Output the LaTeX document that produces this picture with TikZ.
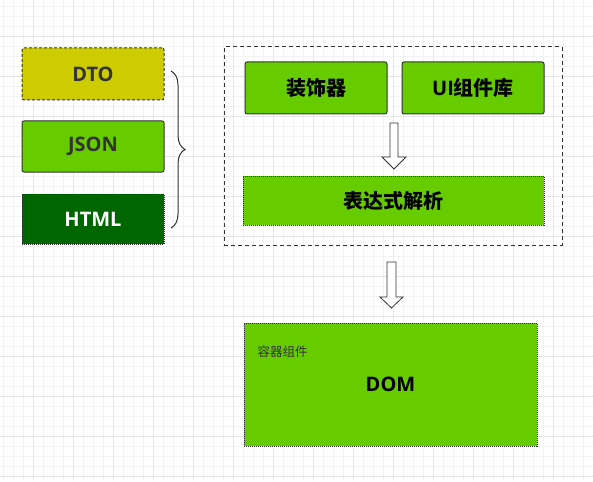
\documentclass[tikz,border=0pt]{standalone}
\usepackage{fontspec}
\setmainfont{Open Sans}
\newfontfamily\cjk{Noto Sans CJK SC}
\usetikzlibrary{decorations.pathreplacing}
\definecolor{dtoyellow}{HTML}{CCCC00}
\definecolor{leafgreen}{HTML}{66CC00}
\definecolor{darkleaf}{HTML}{006600}
\definecolor{inkgray}{HTML}{333333}
\definecolor{gridminor}{HTML}{F3F3F3}
\definecolor{gridmajor}{HTML}{E6E6E6}
\begin{document}
\begin{tikzpicture}[x=1pt,y=-1pt,line width=1pt,
  box/.style={draw=inkgray,fill=leafgreen,rounded corners=2pt,minimum width=142pt,minimum height=52pt,inner sep=0pt,text=inkgray,font=\bfseries\fontsize{20}{20}\selectfont},
  dotbox/.style={box,rounded corners=0pt,dash pattern=on 1pt off 1pt},
  hollow/.style={draw=inkgray,fill=white,line width=0.8pt}]
\useasboundingbox (0,0) rectangle (593,481);
\fill[white] (0,0) rectangle (593,481);
\foreach \x in {3.3,13.3,...,593} \draw[gridminor] (\x,0) -- (\x,481);
\foreach \y in {6.7,16.7,...,481} \draw[gridminor] (0,\y) -- (593,\y);
\foreach \x in {33.3,73.3,...,593} \draw[gridmajor] (\x,0) -- (\x,481);
\foreach \y in {36.7,76.7,...,481} \draw[gridmajor] (0,\y) -- (593,\y);
\node[box,fill=dtoyellow,dash pattern=on 3pt off 2pt] (dto) at (93,74) {DTO};
\node[box,minimum height=51pt] (json) at (93,146.5) {JSON};
\node[dotbox,fill=darkleaf,minimum height=50pt,text=white] (html) at (93,219) {HTML};
\coordinate (btop) at (171,71); \coordinate (bbot) at (171,228);
\draw[inkgray,decorate,decoration={brace,amplitude=14pt}] (btop) -- (bbot);
\node[draw=inkgray,dash pattern=on 4pt off 3pt,minimum width=338pt,minimum height=198pt] (core) at (393,146) {};
\node[box,text=black] (deco) at (316,88) {\cjk\bfseries 装饰器};
\node[box,text=black] (uilib) at (473,88) {UI\cjk\bfseries 组件库};
\node[dotbox,text=black,minimum width=301pt,minimum height=49pt] (parse) at (393.5,200.5) {\cjk\bfseries 表达式解析};
\draw[hollow] (390,123) -- (398,123) -- (398,157) -- (406,157) -- (394,169) -- (382,157) -- (390,157) -- cycle;
\draw[hollow] (387,262) -- (396,262) -- (396,297) -- (403,297) -- (391.5,308) -- (380,297) -- (387,297) -- cycle;
\node[dotbox,text=black,minimum width=293pt,minimum height=123pt] (dom) at (390.5,384.5) {DOM};
\node[anchor=west,inner sep=0pt,text=inkgray,font=\cjk\fontsize{12.5}{12.5}\selectfont] (domtag) at (257,352) {容器组件};
\end{tikzpicture}
\end{document}
